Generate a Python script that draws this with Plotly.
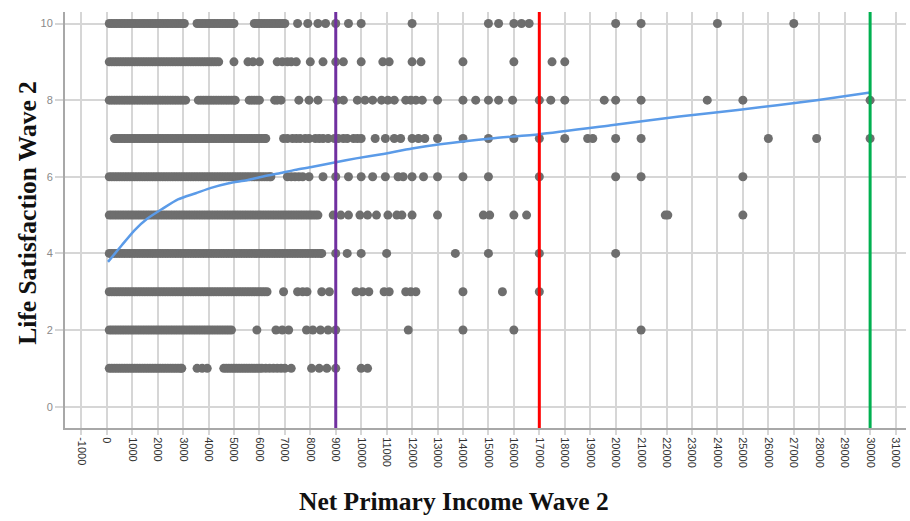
import plotly.graph_objects as go

# Net primary income (wave 2) of respondents, grouped by their life-satisfaction score
level_10 = [100, 200, 300, 400, 500, 600, 700, 800, 900, 1000, 1100, 1200, 1300, 1400, 1500,
            1600, 1700, 1800, 1900, 2000, 2100, 2200, 2300, 2400, 2500, 2600, 2700, 2800, 2900,
            3000, 3050,
            3550, 3650, 3750, 3850, 3950, 4050, 4150, 4250, 4350, 4450, 4550, 4650, 4750, 4850,
            4950, 5000,
            5800, 5900, 6000, 6100, 6200, 6300, 6400, 6500, 6600, 6700, 6800, 6900, 7000,
            7500, 7900, 8300, 8600, 9000, 9500, 10000, 12000, 15000, 15400, 16000, 16300, 16600,
            20000, 21000, 24000, 27000]
level_9 = [100, 200, 300, 400, 500, 600, 700, 800, 900, 1000, 1100, 1200, 1300, 1400, 1500,
           1600, 1700, 1800, 1900, 2000, 2100, 2200, 2300, 2400, 2500, 2600, 2700, 2800, 2900,
           3000, 3100, 3200, 3300, 3400, 3500, 3600, 3700, 3800, 3900, 4000, 4100, 4200, 4300,
           4400,
           5000, 5550, 5750, 6000, 6700, 6900, 7100, 7250, 7450, 8000, 8500, 9000, 9300, 10000,
           10850, 11100, 12000, 12350, 14000, 16000, 17500, 18000]
level_8 = [100, 200, 300, 400, 500, 600, 700, 800, 900, 1000, 1100, 1200, 1300, 1400, 1500,
           1600, 1700, 1800, 1900, 2000, 2100, 2200, 2300, 2400, 2500, 2600, 2700, 2800, 2900,
           3000, 3100,
           3600, 3700, 3800, 3900, 4000, 4100, 4200, 4300, 4400, 4500, 4600, 4700, 4800, 4900,
           5000, 5050,
           5600, 5700, 5800, 5900, 6000, 6600, 6700, 6850, 7550, 7950, 8300, 9050, 9300,
           9850, 10150, 10450, 10800, 11050, 11300, 11750, 11950, 12150, 12400, 13000, 14000,
           14500, 15000, 15400, 15950, 17000, 17450, 18000, 19550, 20000, 21000, 23600, 25000,
           30000]
level_7 = [300, 400, 500, 600, 700, 800, 900, 1000, 1100, 1200, 1300, 1400, 1500, 1600, 1700,
           1800, 1900, 2000, 2100, 2200, 2300, 2400, 2500, 2600, 2700, 2800, 2900, 3000, 3100,
           3200, 3300, 3400, 3500, 3600, 3700, 3800, 3900, 4000, 4100, 4200, 4300, 4400, 4500,
           4600, 4700, 4800, 4900, 5000, 5100, 5200, 5300, 5400, 5500, 5600, 5700, 5800, 5900,
           6000, 6100, 6200, 6250,
           6950, 7100, 7300, 7450, 7600, 7800, 7950, 8200, 8350, 8500, 8700, 8950, 9100, 9300,
           9450, 9700, 9850, 10000,
           10550, 10950, 11300, 11550, 12000, 12250, 12500, 13000, 14000, 15000, 16000, 17000,
           18000, 18900, 19100, 20000, 21000, 26000, 27900, 30000]
level_6 = [100, 200, 300, 400, 500, 600, 700, 800, 900, 1000, 1100, 1200, 1300, 1400, 1500,
           1600, 1700, 1800, 1900, 2000, 2100, 2200, 2300, 2400, 2500, 2600, 2700, 2800, 2900,
           3000, 3100, 3200, 3300, 3400, 3500, 3600, 3700, 3800, 3900, 4000, 4100, 4200, 4300,
           4400, 4500, 4600, 4700, 4800, 4900, 5000, 5100, 5200, 5300, 5400, 5500, 5600, 5700,
           5800, 5900, 6000, 6100, 6200, 6300, 6400, 6450,
           7100, 7250, 7400, 7550, 7700, 7950, 8500, 9000, 9500, 10000, 10450, 10950, 11450,
           11650, 12000, 12450, 13000, 14000, 15000, 17000, 20000, 21000, 25000]
level_5 = [100, 200, 300, 400, 500, 600, 700, 800, 900, 1000, 1100, 1200, 1300, 1400, 1500,
           1600, 1700, 1800, 1900, 2000, 2100, 2200, 2300, 2400, 2500, 2600, 2700, 2800, 2900,
           3000, 3100, 3200, 3300, 3400, 3500, 3600, 3700, 3800, 3900, 4000, 4100, 4200, 4300,
           4400, 4500, 4600, 4700, 4800, 4900, 5000, 5100, 5200, 5300, 5400, 5500, 5600, 5700,
           5800, 5900, 6000, 6100, 6200, 6300, 6400, 6500, 6600, 6700, 6800, 6900, 7000, 7100,
           7200, 7300, 7400, 7500, 7600, 7700, 7800, 7900, 8000, 8100, 8200, 8300,
           8900, 9200, 9500, 9950, 10250, 10600, 11050, 11400, 11600, 12000, 13000, 14800,
           15050, 16000, 16500, 21950, 22050, 25000]
level_4 = [100, 200, 300, 400, 500, 600, 700, 800, 900, 1000, 1100, 1200, 1300, 1400, 1500,
           1600, 1700, 1800, 1900, 2000, 2100, 2200, 2300, 2400, 2500, 2600, 2700, 2800, 2900,
           3000, 3100, 3200, 3300, 3400, 3500, 3600, 3700, 3800, 3900, 4000, 4100, 4200, 4300,
           4400, 4500, 4600, 4700, 4800, 4900, 5000, 5100, 5200, 5300, 5400, 5500, 5600, 5700,
           5800, 5900, 6000, 6100, 6200, 6300, 6400, 6500, 6600, 6700, 6800, 6900, 7000, 7100,
           7200, 7300, 7400, 7500, 7600, 7700, 7800, 7900, 8000, 8100, 8200, 8300, 8400, 8450,
           9000, 9450, 10000, 11000, 13700, 15000, 17000, 20000]
level_3 = [100, 200, 300, 400, 500, 600, 700, 800, 900, 1000, 1100, 1200, 1300, 1400, 1500,
           1600, 1700, 1800, 1900, 2000, 2100, 2200, 2300, 2400, 2500, 2600, 2700, 2800, 2900,
           3000, 3100, 3200, 3300, 3400, 3500, 3600, 3700, 3800, 3900, 4000, 4100, 4200, 4300,
           4400, 4500, 4600, 4700, 4800, 4900, 5000, 5100, 5200, 5300, 5400, 5500, 5600, 5700,
           5800, 5900, 6000, 6100, 6200, 6300,
           6950, 7500, 7700, 7870, 8450, 8750, 9800, 10050, 10300, 10900, 11100,
           11750, 11950, 12150, 14000, 15550, 17000]
level_2 = [100, 200, 300, 400, 500, 600, 700, 800, 900, 1000, 1100, 1200, 1300, 1400, 1500,
           1600, 1700, 1800, 1900, 2000, 2100, 2200, 2300, 2400, 2500, 2600, 2700, 2800, 2900,
           3000, 3100, 3200, 3300, 3400, 3500, 3600, 3700, 3800, 3900, 4000, 4100, 4200, 4300,
           4400, 4500, 4600, 4700, 4800, 4900,
           5900, 6650, 6900, 7150, 7850, 8100, 8400, 8700, 9000, 11850, 14000, 16000, 21000]
level_1 = [100, 200, 300, 400, 500, 600, 700, 800, 900, 1000, 1100, 1200, 1300, 1400, 1500,
           1600, 1700, 1800, 1900, 2000, 2100, 2200, 2300, 2400, 2500, 2600, 2700, 2800, 2900,
           2950,
           3550, 3750, 3950,
           4600, 4700, 4800, 4900, 5000, 5100, 5200, 5300, 5400, 5500, 5600, 5700, 5800, 5900,
           6000, 6100, 6250, 6400, 6550, 6700, 6850, 7000, 7250,
           8050, 8350, 8650, 9000, 10000, 10250]

levels = [10, 9, 8, 7, 6, 5, 4, 3, 2, 1]
incomes_by_level = [level_10, level_9, level_8, level_7, level_6,
                    level_5, level_4, level_3, level_2, level_1]

# Loess fit of life satisfaction on income
fit_income = [50, 600, 1100, 1600, 2200, 2800, 3500, 4100, 4800, 5500, 6100, 6800, 7400, 8100,
              9000, 9800, 10800, 12000, 13100, 15100, 17000, 19900, 22500, 24800, 27900, 30000]
fit_satisfaction = [3.78, 4.22, 4.61, 4.91, 5.17, 5.41, 5.57, 5.71, 5.83, 5.91, 6.0, 6.09, 6.18,
                    6.26, 6.38, 6.48, 6.59, 6.74, 6.85, 7.0, 7.11, 7.35, 7.57, 7.74, 8.0, 8.2]

# Income thresholds and their marker colours
thresholds = [9000, 17000, 30000]
threshold_colors = ["#7030a0", "#ff0000", "#00b050"]

x_tick_values = [-1000, 0, 1000, 2000, 3000, 4000, 5000, 6000, 7000, 8000, 9000, 10000, 11000,
                 12000, 13000, 14000, 15000, 16000, 17000, 18000, 19000, 20000, 21000, 22000,
                 23000, 24000, 25000, 26000, 27000, 28000, 29000, 30000, 31000]
x_tick_labels = [str(v) for v in x_tick_values]
y_tick_values = [0, 2, 4, 6, 8, 10]

xs, ys = [], []
for lvl, incomes in zip(levels, incomes_by_level):
    xs.extend(incomes)
    ys.extend([lvl] * len(incomes))

fig = go.Figure()
fig.add_trace(go.Scatter(
    x=xs, y=ys, mode="markers",
    marker=dict(size=9, color="#6e6e6e", line=dict(width=0)),
    hoverinfo="skip", showlegend=False,
))
fig.add_trace(go.Scatter(
    x=fit_income, y=fit_satisfaction, mode="lines",
    line=dict(color="#5b9be8", width=2.5, shape="spline", smoothing=0.6),
    hoverinfo="skip", showlegend=False,
))

for xv, col in zip(thresholds, threshold_colors):
    fig.add_shape(type="line", xref="x", yref="paper", x0=xv, x1=xv, y0=0, y1=1,
                  line=dict(color=col, width=3), layer="above")

grid_col = "#d6d6d6"
axis_col = "#a8a8a8"

fig.update_layout(
    width=910, height=521,
    margin=dict(l=65, r=4, t=12, b=93),
    paper_bgcolor="white", plot_bgcolor="white",
    showlegend=False,
    xaxis=dict(
        range=[-1640, 31410],
        tickmode="array", tickvals=x_tick_values, ticktext=x_tick_labels,
        tickangle=90,
        tickfont=dict(family="Liberation Sans, Arial", size=11, color="#333333"),
        showgrid=True, gridcolor=grid_col, gridwidth=1.5,
        ticks="outside", ticklen=5, tickcolor=grid_col, tickwidth=1.5,
        showline=True, linecolor=axis_col, linewidth=2,
        zeroline=False,
    ),
    yaxis=dict(
        range=[-0.556, 10.30],
        tickmode="array", tickvals=y_tick_values,
        tickfont=dict(family="Liberation Sans, Arial", size=11, color="#8a8a8a"),
        showgrid=True, gridcolor=grid_col, gridwidth=1.5,
        ticks="outside", ticklen=8, tickcolor=grid_col, tickwidth=1.5,
        showline=True, linecolor=axis_col, linewidth=2,
        zeroline=False,
    ),
    annotations=[
        dict(text="<b>Net Primary Income Wave 2</b>", xref="paper", yref="paper",
             x=0.462, y=-0.177, xanchor="center", yanchor="middle", showarrow=False,
             font=dict(family="Liberation Serif, Times New Roman", size=25.5, color="#111111")),
        dict(text="<b>Life Satisfaction Wave 2</b>", xref="paper", yref="paper",
             x=-0.0455, y=0.5165, xanchor="center", yanchor="middle", showarrow=False,
             textangle=-90,
             font=dict(family="Liberation Serif, Times New Roman", size=25.5, color="#111111")),
    ],
)

fig.write_html("out.html")
